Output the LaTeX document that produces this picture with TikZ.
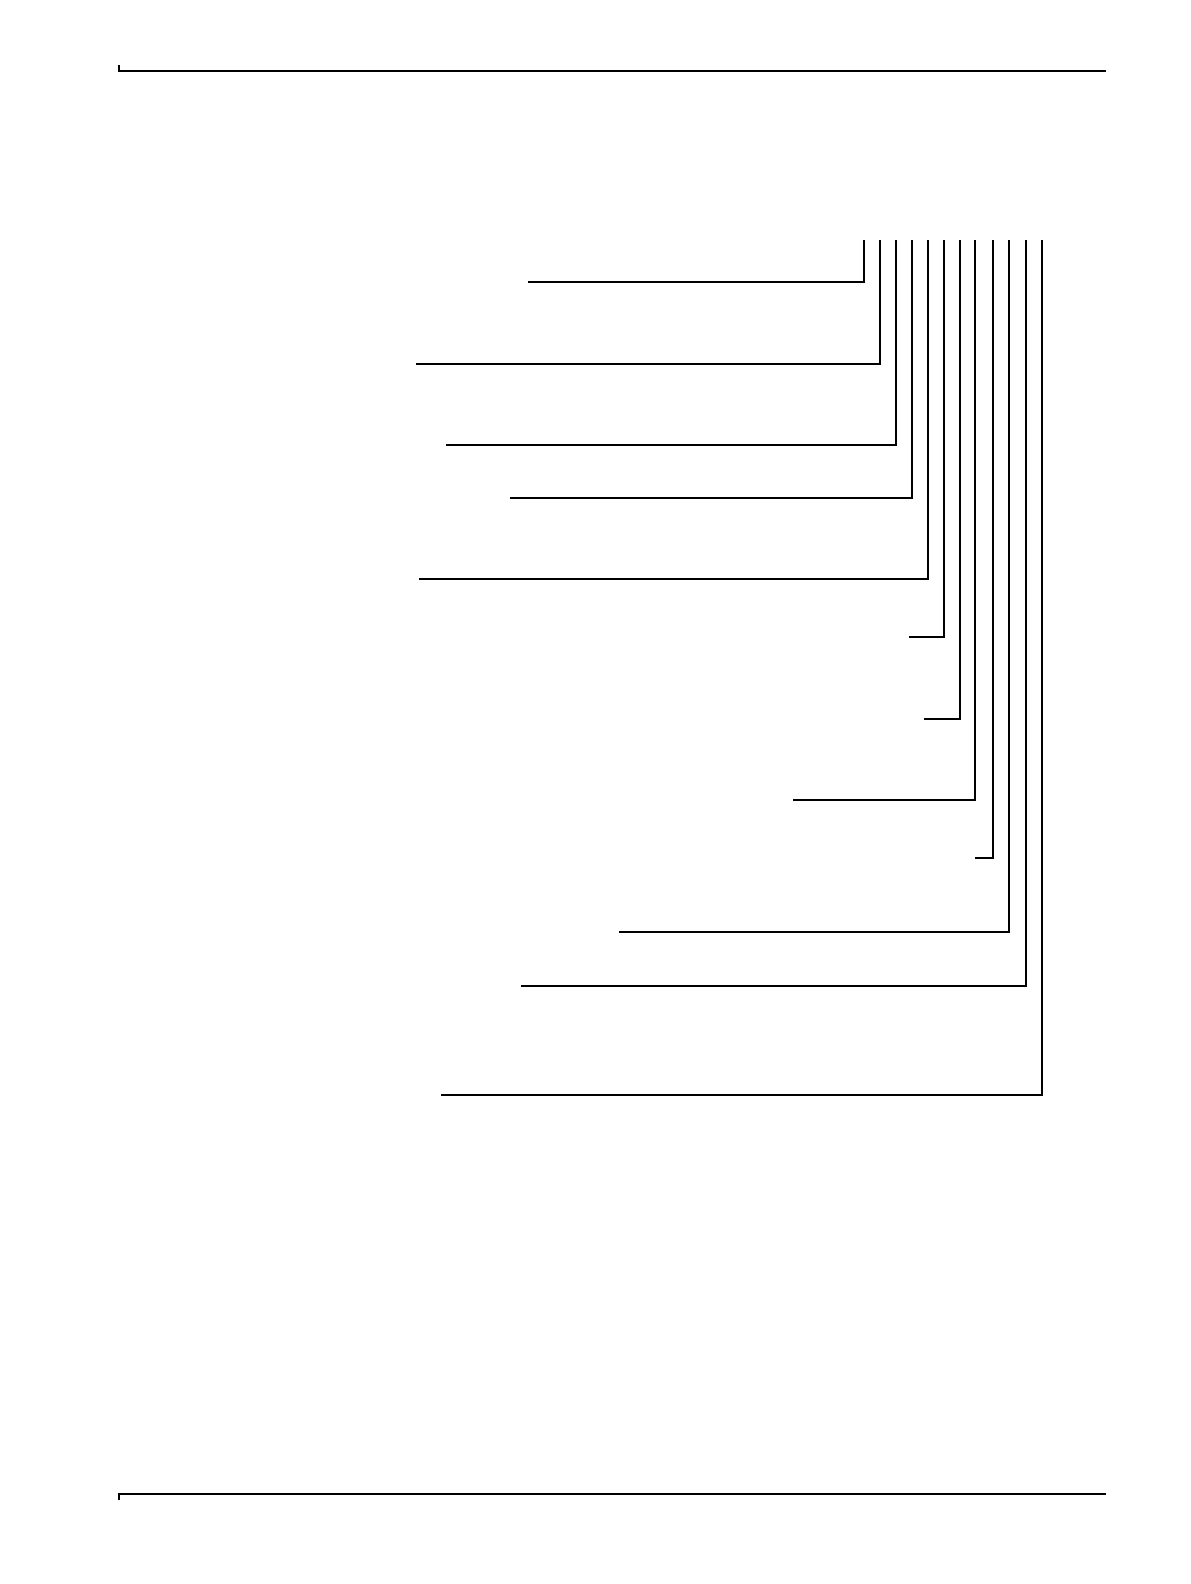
\documentclass[tikz,border=0pt]{standalone}
\usepackage{tikz}
\usetikzlibrary{positioning, calc}

\begin{document}
\begin{tikzpicture}[x=0.5pt, y=-0.5pt]
% styles
\tikzstyle{leader} = [draw, line width=0.8pt, line join=miter]
\tikzstyle{pagerule} = [draw, line width=1pt]

\useasboundingbox (0,0) rectangle (1190,1584);

% header and footer rules
\coordinate (headL) at (119,71);
\coordinate (headR) at (1106,71);
\coordinate (headT) at (119,65);
\coordinate (footL) at (119,1494);
\coordinate (footR) at (1106,1494);
\coordinate (footT) at (119,1500);
\path [pagerule] (headT) -- (headL) -- (headR);
\path [pagerule] (footT) -- (footL) -- (footR);

% leader lines
\foreach \n/\vx/\hy/\hx in {1/864/282/528, 2/880/364/416, 3/896/445/446,
    4/912/498/510, 5/928/579/419, 6/944/637/909, 7/960/719/924,
    8/975/800/793, 9/993/858/975, 10/1009/932/619, 11/1026/986/521,
    12/1042/1095/441} {
  \coordinate (top\n) at (\vx,240);
  \coordinate (knee\n) at (\vx,\hy);
  \coordinate (end\n) at (\hx,\hy);
  \path [leader] (top\n) -- (knee\n) -- (end\n);
}
\end{tikzpicture}
\end{document}
